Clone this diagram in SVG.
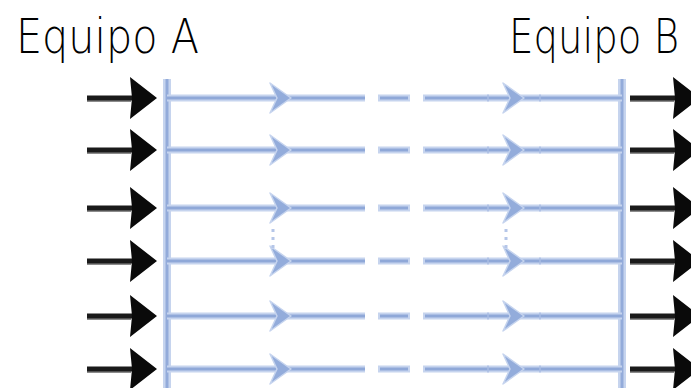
<svg xmlns="http://www.w3.org/2000/svg" width="691" height="388" viewBox="0 0 691 388">
  <style>
    .label { font-family: "DejaVu Sans", "Liberation Sans", sans-serif; font-weight: 200; font-size: 41px; fill: #000; }
    .bar-halo { stroke: #c6d4ee; stroke-width: 8; fill: none; }
    .bar-core { stroke: #93abda; stroke-width: 3; fill: none; }
    .ch-halo { stroke: #c6d4ee; stroke-width: 7; fill: none; }
    .ch-core { stroke: #8fa8d8; stroke-width: 3; fill: none; }
    .ch-head { fill: #93acdb; stroke: #c6d4ee; stroke-width: 1.5; stroke-linejoin: round; }
    .tick { stroke: #a9bde3; stroke-width: 1.5; }
    .dots { stroke: #b5c6e8; stroke-width: 3; stroke-dasharray: 3 5; }
    .in-line { stroke: #1a1a1a; stroke-width: 5; }
    .in-shade { stroke: #8c8c8c; stroke-width: 2; }
    .in-head { fill: #0a0a0a; }
  </style>
  <defs>
    <!-- one channel: solid run, a short dash, solid run, two arrowheads -->
    <g id="channel">
      <path class="ch-halo" d="M167 0H365M378 0H410M423 0H622"/>
      <path class="ch-core" d="M167 0H365M380 0H408M425 0H622"/>
      <line class="tick" x1="488" y1="-3.5" x2="488" y2="3.5"/>
      <line class="tick" x1="540" y1="-3.5" x2="540" y2="3.5"/>
      <polygon class="ch-head" points="291,0 270,-15 277,0 270,15"/>
      <polygon class="ch-head" points="524,0 503,-15 510,0 503,15"/>
    </g>
    <!-- black input/output arrow, drawn with its tail at x=0 -->
    <g id="feed">
      <line class="in-shade" x1="0" y1="3" x2="44" y2="3"/>
      <line class="in-line" x1="0" y1="0" x2="46" y2="0"/>
      <polygon class="in-head" points="43,-21 70,0 43,21 45,0"/>
    </g>
  </defs>

  <g id="team-a">
    <!-- tall, narrow lettering: stretched upward from the baseline -->
    <text class="label" transform="translate(16 53) scale(1 1.17)" textLength="183" lengthAdjust="spacingAndGlyphs">Equipo A</text>
    <line class="bar-halo" x1="167" y1="79" x2="167" y2="388"/>
    <line class="bar-core" x1="167" y1="79" x2="167" y2="388"/>
  </g>

  <g id="team-b">
    <text class="label" transform="translate(509 53) scale(1 1.17)" textLength="170" lengthAdjust="spacingAndGlyphs">Equipo B</text>
    <line class="bar-halo" x1="622" y1="79" x2="622" y2="388"/>
    <line class="bar-core" x1="622" y1="79" x2="622" y2="388"/>
  </g>

  <g id="connectors">
    <use href="#channel" y="98"/>
    <use href="#channel" y="150"/>
    <use href="#channel" y="208"/>
    <use href="#channel" y="261"/>
    <use href="#channel" y="316"/>
    <use href="#channel" y="369"/>
    <!-- elided rows between the third and fourth channel -->
    <line class="dots" x1="273" y1="229" x2="273" y2="250"/>
    <line class="dots" x1="506" y1="229" x2="506" y2="250"/>

    <g id="inputs">
      <use href="#feed" x="87" y="98"/>
      <use href="#feed" x="87" y="150"/>
      <use href="#feed" x="87" y="208"/>
      <use href="#feed" x="87" y="261"/>
      <use href="#feed" x="87" y="316"/>
      <use href="#feed" x="87" y="369"/>
    </g>
    <g id="outputs">
      <use href="#feed" x="630" y="98"/>
      <use href="#feed" x="630" y="150"/>
      <use href="#feed" x="630" y="208"/>
      <use href="#feed" x="630" y="261"/>
      <use href="#feed" x="630" y="316"/>
      <use href="#feed" x="630" y="369"/>
    </g>
  </g>
</svg>
